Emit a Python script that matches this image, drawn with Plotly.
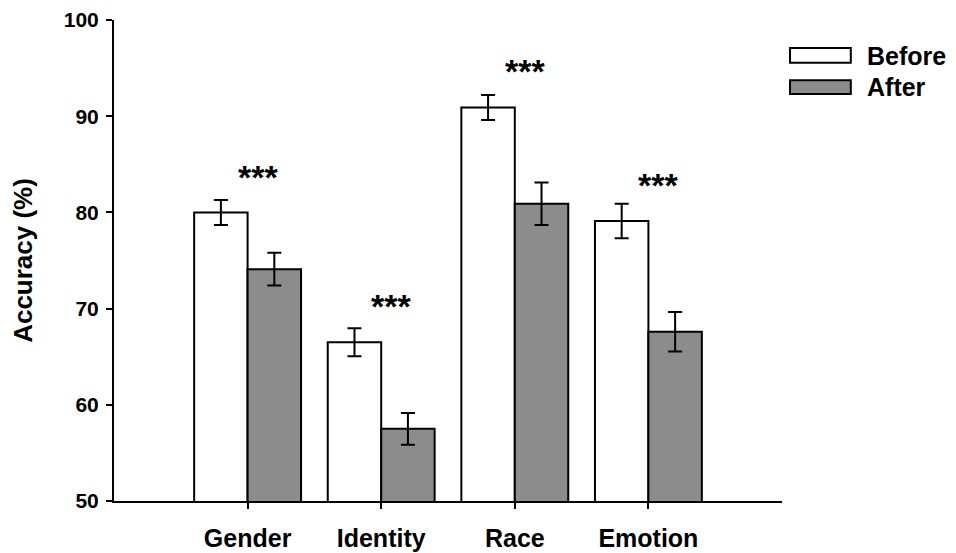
import plotly.graph_objects as go

categories = ["Gender", "Identity", "Race", "Emotion"]
before = [80.0, 66.5, 90.9, 79.1]
before_err = [1.3, 1.45, 1.3, 1.8]
after = [74.1, 57.5, 80.9, 67.6]
after_err = [1.7, 1.65, 2.2, 2.05]
sig_labels = ["***", "***", "***", "***"]
sig_y = [83.7, 70.3, 94.75, 82.85]
y_ticks = [50, 60, 70, 80, 90, 100]

FONT = "Liberation Sans"
xpos = list(range(len(categories)))

fig = go.Figure()
fig.add_trace(go.Bar(
    x=xpos, y=before, name="Before",
    marker=dict(color="white", line=dict(color="black", width=2)),
    error_y=dict(type="data", array=before_err, color="black", thickness=2, width=7),
))
fig.add_trace(go.Bar(
    x=xpos, y=after, name="After",
    marker=dict(color="#8c8c8c", line=dict(color="black", width=2)),
    error_y=dict(type="data", array=after_err, color="black", thickness=2, width=7),
))

for i, (lab, yv) in enumerate(zip(sig_labels, sig_y)):
    fig.add_annotation(x=i + 0.075, y=yv, text=lab, showarrow=False,
                       xref="x", yref="y", yanchor="middle",
                       font=dict(family=FONT, size=34, color="black", weight="bold"))

# legend drawn manually (paper coords)
leg = [("Before", "white", 0.911, 0.942, 0.925), ("After", "#8c8c8c", 0.846, 0.875, 0.861)]
for name, col, y0, y1, yc in leg:
    fig.add_shape(type="rect", xref="paper", yref="paper", x0=1.012, x1=1.103, y0=y0, y1=y1,
                  fillcolor=col, line=dict(color="black", width=2))
    fig.add_annotation(xref="paper", yref="paper", x=1.124, y=yc, text=name, showarrow=False,
                       xanchor="left", yanchor="middle",
                       font=dict(family=FONT, size=25, color="black", weight="bold"))

fig.update_layout(
    width=956, height=553,
    margin=dict(l=106, r=182, t=12, b=60),
    paper_bgcolor="white", plot_bgcolor="white",
    barmode="group", bargap=0.2, bargroupgap=0,
    showlegend=False,
    font=dict(family=FONT, color="black"),
)
fig.update_xaxes(
    range=[-1, 4], tickvals=xpos, ticktext=categories,
    showline=True, linecolor="black", linewidth=2,
    ticks="outside", ticklen=6, tickwidth=2, tickcolor="black",
    showgrid=False, zeroline=False, automargin=False,
    tickfont=dict(family=FONT, size=25, color="black", weight="bold"),
    ticklabelstandoff=8,
)
fig.update_yaxes(
    range=[50, 100], tickvals=y_ticks,
    showline=True, linecolor="black", linewidth=2,
    ticks="outside", ticklen=6, tickwidth=2, tickcolor="black",
    showgrid=False, zeroline=False, automargin=False,
    tickfont=dict(family=FONT, size=21, color="black", weight="bold"),
    ticklabelstandoff=3,
    title=dict(text="Accuracy (%)", font=dict(family=FONT, size=26, color="black", weight="bold"), standoff=24),
)

fig.write_html("out.html")
